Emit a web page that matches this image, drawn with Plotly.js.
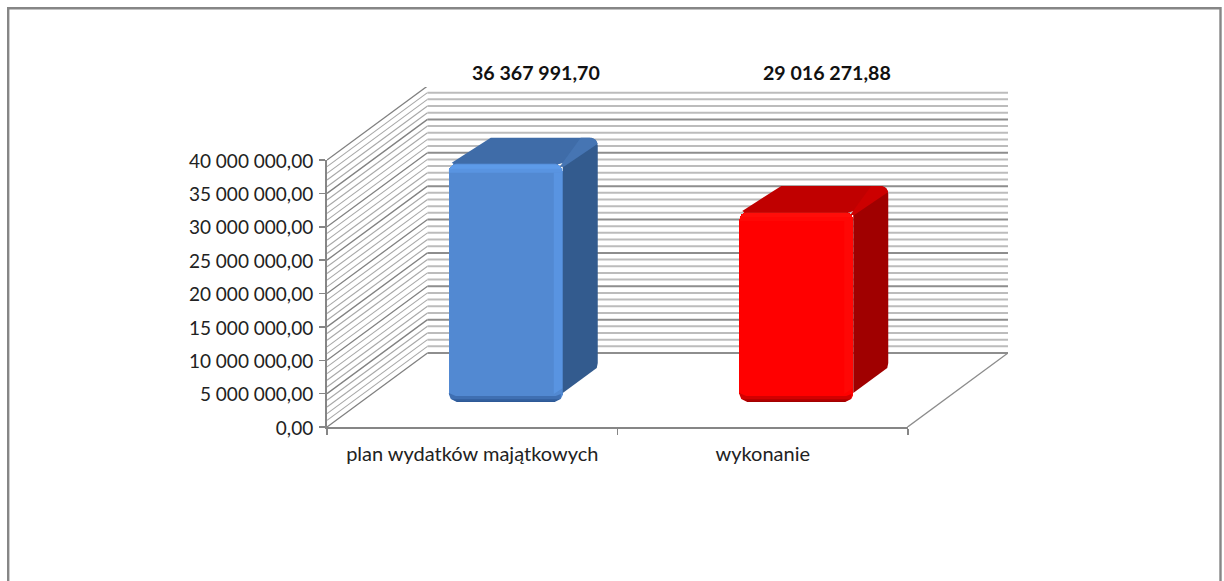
<!DOCTYPE html>
<html><head><meta charset="utf-8">
<script src="https://cdn.plot.ly/plotly-3.0.1.min.js"></script>
<style>html,body{margin:0;padding:0;background:#fff}#c{width:1224px;height:581px}</style>
</head><body><div id="c"></div>
<script>
const categories = ['plan wydatków majątkowych', 'wykonanie'];
const values = [36367991.70, 29016271.88];
const valueLabels = ['36 367 991,70', '29 016 271,88'];
const yTickVals = [0, 5e6, 10e6, 15e6, 20e6, 25e6, 30e6, 35e6, 40e6];
const yTickText = ['0,00', '5 000 000,00', '10 000 000,00', '15 000 000,00', '20 000 000,00', '25 000 000,00', '30 000 000,00', '35 000 000,00', '40 000 000,00'];
const minorGrid = [1,2,3,4,6,7,8,9,11,12,13,14,16,17,18,19,21,22,23,24,26,27,28,29,31,32,33,34,36,37,38,39].map(m => m * 1e6);
const frontColors = ['#5289d2', '#ff0000'];
const topColors = ['#3f6ca8', '#c00000'];
const sideColors = ['#335b8e', '#a00000'];
const lightColors = ['rgba(100,165,245,0.42)', 'rgba(255,70,50,0.10)'];
const cornerColors = ['#4675b3', '#cc0000'];
const edgeColors = ['rgba(40,80,140,0.45)', 'rgba(130,0,0,0.35)'];

const W = 1224, H = 581;
const dx = p => p / W, dy = p => 1 - p / H;
const domX = (a, b) => [dx(a), dx(b)];
const domY = (top, bottom) => [dy(bottom), dy(top)];

// geometry of the pseudo-3D box (pixels)
const frontL = 327, step = 290.5, floorY = 427, topY = 160, depthX = 100.5, depthY = 74, backTop = 87, wallR = 1008;
const pxPerM = (floorY - topY) / 40;
const lift = depthY / pxPerM * 1e6;
const wallRange = (floorY - backTop) / pxPerM * 1e6;
const wallXMax = wallR - frontL;
const barBase = 402, barPx = 6.55, barShift = 33.5, halfBar = 57;
const barRange = (barBase - backTop) / barPx * 1e6;

const traces = [];
function wall(levels, side, color, width) {
  const x = [], y = [];
  levels.forEach(v => {
    if (side) { x.push(0, depthX, null); y.push(v, v + lift, null); }
    else { x.push(depthX, wallXMax, null); y.push(v + lift, v + lift, null); }
  });
  traces.push({type:'scatter', mode:'lines', x, y, xaxis:'x2', yaxis:'y2', hoverinfo:'skip', showlegend:false, line:{color, width}});
}
const major = yTickVals;
wall(minorGrid, true, '#a8a8a8', 1.1);
wall(major, true, '#808080', 1.3);
wall(minorGrid, false, '#bcbcbc', 2);
wall(major, false, '#8e8e8e', 2);
traces.push({type:'scatter', mode:'lines', x:[wallXMax - depthX, wallXMax], y:[0, lift], xaxis:'x2', yaxis:'y2', hoverinfo:'skip', showlegend:false, line:{color:'#8c8c8c', width:1.4}});

// axis carrier for the front axes
traces.push({type:'bar', x:categories, y:[0,0], xaxis:'x', yaxis:'y', hoverinfo:'skip', showlegend:false, marker:{color:'rgba(0,0,0,0)'}});

// front faces
traces.push({type:'bar', x:categories, y:values, xaxis:'x3', yaxis:'y3', width:2*halfBar/step, hoverinfo:'skip', showlegend:false, marker:{color:frontColors, line:{width:0}}});

function poly(i, pts, color) {
  traces.push({type:'scatter', mode:'lines', fill:'toself', fillcolor:color, line:{width:0},
    x: pts.map(p => i + p[0] / step), y: pts.map(p => p[1] * 1e6 / barPx + (p[2] ? values[i] : 0)),
    xaxis:'x4', yaxis:'y3', hoverinfo:'skip', showlegend:false});
}
values.forEach((v, i) => {
  const h = halfBar;
  // [px right of centre, px up, 1 = measured from the value]
  poly(i, [[h-9,-9,1],[h,-9,1],[h,14,0],[h-9,8,0]], lightColors[i]);
  poly(i, [[h,9,0],[h+31,31,0],[h+34,34,0],[h+35,39,0],[h+35,18,1],[h+34,22,1],[h+31,25,1],[h+27,26,1],[h,0,1]], sideColors[i]);
  poly(i, [[-h+6,-1,1],[-h+3,1,1],[-15,26,1],[h+27,26,1],[h+4,2,1],[h-6,-1,1]], topColors[i]);
  poly(i, [[h-3,-3,1],[h+1,-3,1],[h+35,20,1],[h+33,24,1],[h+29,26,1],[h+18,26,1]], cornerColors[i]);
  poly(i, [[-h+7,0,1],[h-7,0,1],[h-3,-2,1],[h,-6,1],[h,-9,1],[h-7,-9,1],[-h+6,-9,1],[-h,-9,1],[-h,-6,1],[-h+3,-2,1]], lightColors[i]);
  poly(i, [[-h+7,0,1],[h-7,0,1],[h-3,-2,1],[h,-6,1],[h-4,-5,1],[-h+5,-5,1],[-h,-6,1],[-h+3,-2,1]], lightColors[i]);
  // dark lower rim
  poly(i, [[-h,9,0],[-h+7,6,0],[h-7,6,0],[h-2,8,0],[h-2,3,0],[h-8,0,0],[-h+8,0,0],[-h+2,3,0],[-h,8,0]], edgeColors[i]);
  poly(i, [[-h+2,3,0],[-h+8,3,0],[h-8,3,0],[h-2,3,0],[h-8,0,0],[-h+8,0,0]], edgeColors[i]);
  poly(i, [[-h+5,1.3,0],[h-5,1.3,0],[h-8,0,0],[-h+8,0,0]], edgeColors[i]);
  // rounded lower corners of the front face
  poly(i, [[-h-1,-1,0],[-h-1,8,0],[-h,8,0],[-h+2,3,0],[-h+8,0,0],[-h+8,-1,0]], '#ffffff');
  poly(i, [[h+1,-1,0],[h+1,6.5,0],[h,7,0],[h-2,3,0],[h-8,0,0],[h-8,-1,0]], '#ffffff');
});

const font = {family:'Lato, "Open Sans", sans-serif', size:19, color:'#222222'};
const xFont = {family:font.family, size:20, color:'#222222'};
const hiddenAxis = {visible:false, fixedrange:true};
const layout = {
  width:W, height:H, margin:{l:0,r:0,t:0,b:0}, showlegend:false, hovermode:false, barmode:'overlay',
  paper_bgcolor:'#ffffff', plot_bgcolor:'rgba(0,0,0,0)', font,
  bargap:0, barcornerradius:8,
  xaxis:{type:'category', domain:domX(frontL, frontL + 2*step), range:[-0.5,1.5], anchor:'y', showgrid:false, showline:true, linecolor:'#868686', linewidth:2, ticks:'outside', ticklen:6, tickwidth:1.5, tickcolor:'#868686', tickson:'boundaries', tickfont:xFont, ticklabelstandoff:8, zeroline:false, fixedrange:true},
  yaxis:{domain:domY(topY, floorY), range:[0,40e6], anchor:'x', tickmode:'array', tickvals:yTickVals, ticktext:yTickText, showgrid:false, zeroline:false, showline:true, linecolor:'#868686', linewidth:2, ticks:'outside', ticklen:6, tickwidth:1.5, tickcolor:'#868686', tickfont:font, ticklabelstandoff:2, ticklabelshift:1, fixedrange:true},
  xaxis2:Object.assign({domain:domX(frontL, wallR), range:[0, wallXMax], anchor:'y2'}, hiddenAxis),
  yaxis2:Object.assign({domain:domY(backTop, floorY), range:[0, wallRange], anchor:'x2'}, hiddenAxis),
  xaxis3:Object.assign({type:'category', domain:domX(frontL + barShift, frontL + barShift + 2*step), range:[-0.5,1.5], anchor:'y3'}, hiddenAxis),
  yaxis3:Object.assign({domain:domY(backTop, barBase), range:[0, barRange], anchor:'x3'}, hiddenAxis),
  xaxis4:Object.assign({domain:domX(frontL + barShift, frontL + barShift + 2*step), range:[-0.5,1.5], anchor:'y3'}, hiddenAxis),
  annotations: valueLabels.map((t, i) => ({text:'<b>'+t+'</b>', xref:'x4', yref:'paper', x:i, y:dy(72.5), xshift:30.5, yanchor:'middle', xanchor:'center', showarrow:false, font:{family:font.family, size:19.6, color:'#111111'}})),
  shapes:[{type:'rect', xref:'paper', yref:'paper', x0:dx(8.2), x1:dx(1220.5), y0:-0.05, y1:dy(8.2), line:{color:'#868686', width:2.4}, layer:'below'}]
};
Plotly.newPlot('c', traces, layout, {staticPlot:true, displayModeBar:false});
</script></body></html>
